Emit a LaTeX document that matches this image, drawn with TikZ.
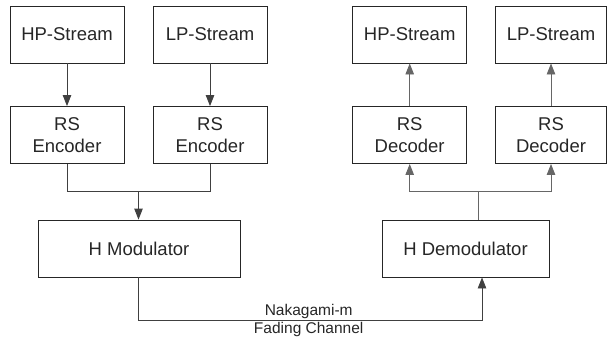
\documentclass[tikz,border=0pt]{standalone}
\usepackage{fontspec}
\setmainfont{Liberation Sans}
\usetikzlibrary{arrows.meta}
\begin{document}
\begin{tikzpicture}[x=1pt,y=-1pt,
  blk/.style={draw=black!85,line width=0.9pt,inner sep=0pt,align=center,
    font=\fontsize{18.5}{22.3}\selectfont,text=black!85},
  smallblk/.style={blk,minimum width=114pt,minimum height=57pt},
  wide/.style={blk,minimum height=57pt},
  conn/.style={draw=black!75,line width=0.9pt},
  connR/.style={draw=black!60,line width=0.9pt},
  arr/.style={conn,-{Triangle[length=11pt,width=8.5pt]}},
  arrR/.style={connR,-{Triangle[length=11pt,width=8.5pt]}},
  lbl/.style={font=\fontsize{15.5}{18}\selectfont,text=black!85,inner sep=0pt}]
\useasboundingbox (0,0) rectangle (607,343);
% left side
\node[smallblk] (hpl) at (67,34.5) {HP-Stream};
\node[smallblk] (lpl) at (210,34.5) {LP-Stream};
\node[smallblk] (rse1) at (67,135) {RS\\Encoder};
\node[smallblk] (rse2) at (210,135) {RS\\Encoder};
\node[wide,minimum width=202pt] (hmod) at (139,248.5) {H Modulator};
% right side
\node[smallblk] (hpr) at (409.7,34.5) {HP-Stream};
\node[smallblk,minimum width=111pt] (lpr) at (551,34.5) {LP-Stream};
\node[smallblk] (rsd1) at (409.7,135) {RS\\Decoder};
\node[smallblk,minimum width=111pt] (rsd2) at (551,135) {RS\\Decoder};
\node[wide,minimum width=167pt] (hdemod) at (465.5,248.5) {H Demodulator};
% coordinates
\coordinate (mergeL) at (138.5,191);
\coordinate (mergeR) at (478,191);
\coordinate (chanR) at (482,320);
% connectors left
\draw[arr] (hpl) -- (rse1);
\draw[arr] (lpl) -- (rse2);
\draw[conn] (rse1.south) |- (mergeL);
\draw[conn] (rse2.south) |- (mergeL);
\draw[arr] (mergeL) -- (mergeL |- hmod.north);
% connectors right
\draw[connR] (mergeR |- hdemod.north) -- (mergeR);
\draw[arrR] (mergeR) -| (rsd1.south);
\draw[arrR] (mergeR) -| (rsd2.south);
\draw[arrR] (rsd1) -- (hpr);
\draw[arrR] (rsd2) -- (lpr);
% channel
\draw[arr] (mergeL |- hmod.south) |- (chanR) -- (chanR |- hdemod.south);
\node[lbl,anchor=base] (nak) at (308.7,315.5) {Nakagami-m};
\node[lbl,anchor=base] (fad) at (308.7,333.5) {Fading Channel};
\end{tikzpicture}
\end{document}
